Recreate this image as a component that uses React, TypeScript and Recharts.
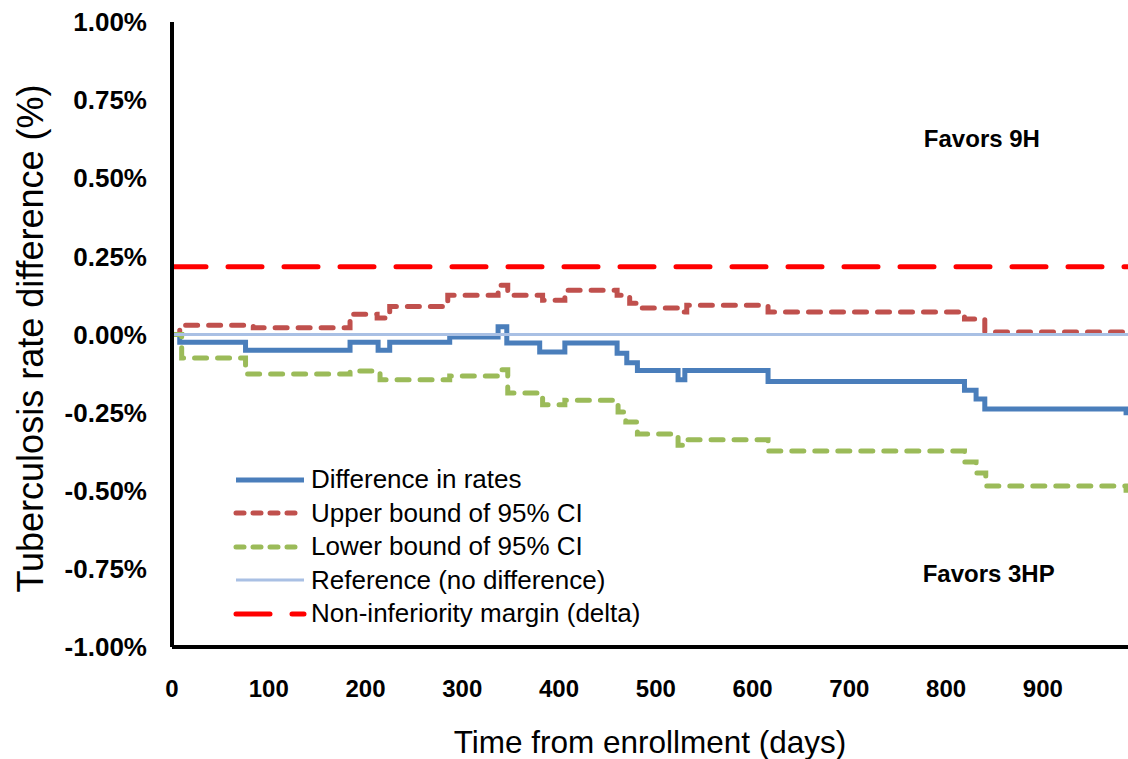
import React from "react";
import {
  LineChart,
  Line,
  XAxis,
  YAxis,
  ReferenceDot,
} from "recharts";

// days at which each curve steps, and the value (%) held from that day on
const diffDays = [0, 8, 76, 184, 213, 225, 287, 337, 346, 380, 406, 460, 470, 481, 523, 530, 616, 819, 831, 840, 986, 988];
const diffValues = [0, -0.025, -0.05, -0.025, -0.05, -0.025, -0.008, 0.025, -0.027, -0.056, -0.027, -0.06, -0.09, -0.115, -0.145, -0.115, -0.15, -0.178, -0.206, -0.238, -0.25, -0.25];

const upperDays = [0, 8, 84, 184, 212, 225, 285, 337, 347, 383, 406, 460, 473, 483, 525, 532, 616, 819, 840, 988];
const upperValues = [0, 0.03, 0.022, 0.065, 0.053, 0.09, 0.126, 0.158, 0.126, 0.11, 0.142, 0.126, 0.1, 0.085, 0.072, 0.094, 0.072, 0.05, 0.008, 0.008];

const lowerDays = [0, 10, 76, 184, 215, 287, 337, 347, 383, 406, 461, 469, 481, 523, 530, 616, 819, 831, 841, 986, 988];
const lowerValues = [0, -0.075, -0.126, -0.117, -0.145, -0.133, -0.113, -0.187, -0.225, -0.21, -0.248, -0.28, -0.318, -0.354, -0.337, -0.373, -0.408, -0.443, -0.485, -0.498, -0.498];

const refDays = [0, 988];
const refValues = [0, 0];

const marginDays = [0, 988];
const marginValues = [0.217, 0.217];

const xTicks = [0, 100, 200, 300, 400, 500, 600, 700, 800, 900];
const yTicks = [-1, -0.75, -0.5, -0.25, 0, 0.25, 0.5, 0.75, 1];

const FONT = '"Liberation Sans", Arial, sans-serif';

const toPoints = (days: number[], values: number[]) =>
  days.map((d, i) => ({ day: d, value: values[i] }));

const series = [
  { name: "Difference in rates", days: diffDays, values: diffValues, color: "#4A7EBB", width: 5, dash: undefined, legendDash: undefined, cap: "butt" },
  { name: "Upper bound of 95% CI", days: upperDays, values: upperValues, color: "#C0504D", width: 5, dash: "12 11", legendDash: "8 9", cap: "round" },
  { name: "Lower bound of 95% CI", days: lowerDays, values: lowerValues, color: "#9BBB59", width: 5, dash: "12 11", legendDash: "8 9", cap: "round" },
  { name: "Reference (no difference)", days: refDays, values: refValues, color: "#A9C0E4", width: 3, dash: undefined, legendDash: undefined, cap: "butt" },
  { name: "Non-inferiority margin (delta)", days: marginDays, values: marginValues, color: "#FF0000", width: 5, dash: "34 22", legendDash: "34 22", cap: "round" },
];

function LegendBox() {
  return (
    <div
      style={{
        position: "absolute",
        left: 233,
        top: 463,
        fontFamily: FONT,
        fontSize: 26,
        color: "#000",
      }}
    >
      {series.map((s) => (
        <div key={s.name} style={{ display: "flex", alignItems: "center", height: 33.5 }}>
          <svg width={74} height={12} style={{ marginRight: 4 }}>
            <line
              x1={3}
              y1={6}
              x2={71}
              y2={6}
              stroke={s.color}
              strokeWidth={s.width}
              strokeDasharray={s.legendDash}
              strokeLinecap={s.cap as any}
            />
          </svg>
          <span style={{ whiteSpace: "nowrap" }}>{s.name}</span>
        </div>
      ))}
    </div>
  );
}

export default function App() {
  return (
    <div style={{ position: "relative", width: 1128, height: 759, background: "#fff" }}>
      <style>{`body{margin:0}`}</style>
      <LineChart width={1128} height={759} margin={{ top: 22, right: 0, bottom: 0, left: 0 }}>
        <XAxis
          dataKey="day"
          type="number"
          domain={[0, 988]}
          ticks={xTicks}
          allowDataOverflow
          height={112}
          tickSize={0}
          tickMargin={33}
          axisLine={{ stroke: "#000", strokeWidth: 4 }}
          tick={{ fill: "#000", fontSize: 24, fontWeight: "bold", fontFamily: FONT }}
          label={{
            value: "Time from enrollment (days)",
            position: "insideBottom",
            offset: 6,
            fill: "#000",
            fontSize: 31.5,
            fontFamily: FONT,
          }}
        />
        <YAxis
          dataKey="value"
          type="number"
          domain={[-1, 1]}
          ticks={yTicks}
          width={172}
          tickSize={0}
          tickMargin={25}
          tickFormatter={(v: number) => `${v.toFixed(2)}%`}
          axisLine={{ stroke: "#000", strokeWidth: 4 }}
          tick={{ fill: "#000", fontSize: 26, fontWeight: "bold", fontFamily: FONT }}
          label={{
            content: (p: any) => {
              const vb = p.viewBox || { x: 0, y: 22, width: 172, height: 625 };
              const cx = vb.x + 30;
              const cy = vb.y + vb.height / 2 + 4;
              return (
                <text
                  x={cx}
                  y={cy}
                  transform={`rotate(-90 ${cx} ${cy})`}
                  textAnchor="middle"
                  dominantBaseline="central"
                  fill="#000"
                  fontSize={36}
                  fontFamily={FONT}
                >
                  Tuberculosis rate difference (%)
                </text>
              );
            },
          }}
        />
        {series.map((s) => (
          <Line
            key={s.name}
            data={toPoints(s.days, s.values)}
            dataKey="value"
            name={s.name}
            type="stepAfter"
            stroke={s.color}
            strokeWidth={s.width}
            strokeDasharray={s.dash}
            strokeLinecap={s.cap as any}
            dot={false}
            activeDot={false}
            isAnimationActive={false}
          />
        ))}
        <ReferenceDot
          x={837}
          y={0.626}
          r={0}
          label={{ value: "Favors 9H", position: "center", fill: "#000", fontSize: 24, fontWeight: "bold", fontFamily: FONT }}
        />
        <ReferenceDot
          x={844}
          y={-0.766}
          r={0}
          label={{ value: "Favors 3HP", position: "center", fill: "#000", fontSize: 24, fontWeight: "bold", fontFamily: FONT }}
        />
      </LineChart>
      <LegendBox />
    </div>
  );
}
